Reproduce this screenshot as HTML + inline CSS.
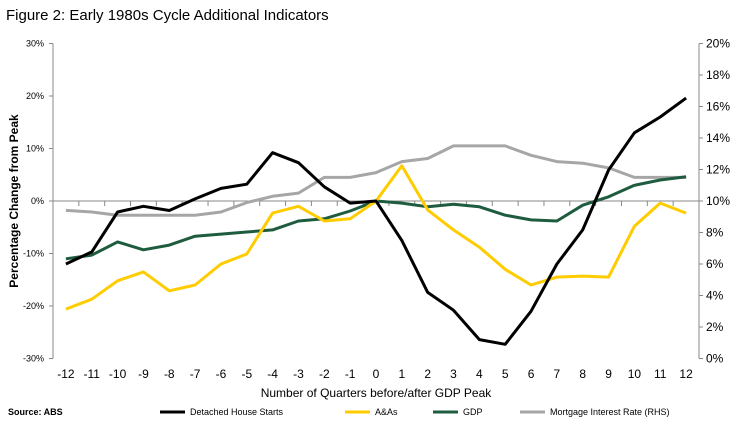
<!DOCTYPE html>
<html><head><meta charset="utf-8"><style>
body{margin:0;background:#fff;font-family:"Liberation Sans",Arial,sans-serif;}
svg text{font-family:"Liberation Sans",Arial,sans-serif;}
</style></head><body>
<svg id="chart" width="742" height="423" viewBox="0 0 742 423">
<text x="6" y="20" font-size="15" fill="#000">Figure 2: Early 1980s Cycle Additional Indicators</text>
<g id="axes"></g>
<g id="series"></g>
<text x="18" y="201" font-size="12" font-weight="bold" transform="rotate(-90 18 201)" text-anchor="middle">Percentage Change from Peak</text>
<text x="376" y="397" font-size="12" text-anchor="middle">Number of Quarters before/after GDP Peak</text>
<text x="8" y="415" font-size="9" font-weight="bold">Source: ABS</text>
<g id="legend"></g>
</svg>
<script>
const categories=[-12,-11,-10,-9,-8,-7,-6,-5,-4,-3,-2,-1,0,1,2,3,4,5,6,7,8,9,10,11,12];
const houseStarts=[-12,-9.7,-2.1,-1,-1.8,0.4,2.4,3.2,9.2,7.3,2.7,-0.4,0,-7.5,-17.4,-20.8,-26.4,-27.3,-21,-12,-5.5,5.9,13,16,19.6];
const aas=[-20.6,-18.7,-15.2,-13.5,-17.1,-16,-12,-10.1,-2.3,-1,-3.8,-3.4,0,6.7,-1.7,-5.5,-8.8,-13,-16,-14.5,-14.3,-14.5,-4.8,-0.4,-2.3];
const gdp=[-11,-10.3,-7.8,-9.3,-8.4,-6.7,-6.3,-5.9,-5.5,-3.8,-3.4,-1.9,0,-0.4,-1.1,-0.6,-1.1,-2.7,-3.6,-3.8,-0.8,0.8,3,4,4.6];
const mortgage=[9.4,9.3,9.1,9.1,9.1,9.1,9.3,9.9,10.3,10.5,11.5,11.5,11.8,12.5,12.7,13.5,13.5,13.5,12.9,12.5,12.4,12.1,11.5,11.5,11.5];
const leftTicks=[-30,-20,-10,0,10,20,30];
const rightTicks=[0,2,4,6,8,10,12,14,16,18,20];
const seriesNames=["Detached House Starts","A&As","GDP","Mortgage Interest Rate (RHS)"];
const seriesColors=["#000000","#ffcc00","#1e5c3f","#a6a6a6"];

const NS="http://www.w3.org/2000/svg";
const X0=53,X1=699,YT=43.5,YB=358.5;
const band=(X1-X0)/categories.length;
const xs=i=>X0+band*(i+0.5);
const yL=v=>YB-(v+30)/60*(YB-YT);
const yR=v=>YB-v/20*(YB-YT);
function mk(tag,attrs,parent){const e=document.createElementNS(NS,tag);for(const k in attrs)e.setAttribute(k,attrs[k]);parent.appendChild(e);return e;}
const axes=document.getElementById('axes');
let e=mk('line',{x1:X0,y1:YT,x2:X0,y2:YB,stroke:'#888'},axes);


e=mk('line',{x1:X1,y1:YT,x2:X1,y2:YB,stroke:'#888'},axes);


e=mk('line',{x1:X0,y1:yL(0),x2:X1,y2:yL(0),stroke:'#888'},axes);


for(let i=0;i<=categories.length;i++){
  const t=mk('line',{x1:X0+band*i,y1:yL(0),x2:X0+band*i,y2:yL(0)+5,stroke:'#888'},axes);
  
  
}
categories.forEach((c,i)=>{
  const t=mk('text',{x:xs(i),y:378,'font-size':12,'text-anchor':'middle'},axes);t.textContent=c;
  
  
});
leftTicks.forEach(v=>{
  const l=mk('line',{x1:X0-4,y1:yL(v),x2:X0,y2:yL(v),stroke:'#888'},axes);
  
  
  const t=mk('text',{x:X0-9,y:yL(v)+3,'font-size':9,'text-anchor':'end'},axes);t.textContent=v+'%';
  
  
});
rightTicks.forEach(v=>{
  const l=mk('line',{x1:X1,y1:yR(v),x2:X1+4,y2:yR(v),stroke:'#888'},axes);
  
  
  const t=mk('text',{x:X1+7,y:yR(v)+4,'font-size':12},axes);t.textContent=v+'%';
  
  
});
const sg=document.getElementById('series');
const data=[[houseStarts,yL],[aas,yL],[gdp,yL],[mortgage,yR]];
const order=[3,2,1,0];
order.forEach(k=>{
  const [arr,f]=data[k];
  const p=mk('polyline',{points:arr.map((v,i)=>xs(i).toFixed(1)+','+f(v).toFixed(1)).join(' '),fill:'none',stroke:seriesColors[k],'stroke-width':3,'stroke-linejoin':'round'},sg);
  
  
});
const lg=document.getElementById('legend');
const lx=[160,345,433,520];
seriesNames.forEach((n,k)=>{
  const l=mk('line',{x1:lx[k],y1:412,x2:lx[k]+25,y2:412,stroke:seriesColors[k],'stroke-width':3},lg);
  
  
  const t=mk('text',{x:lx[k]+30,y:415,'font-size':9},lg);t.textContent=n;
  
  
});
</script>
</body></html>
